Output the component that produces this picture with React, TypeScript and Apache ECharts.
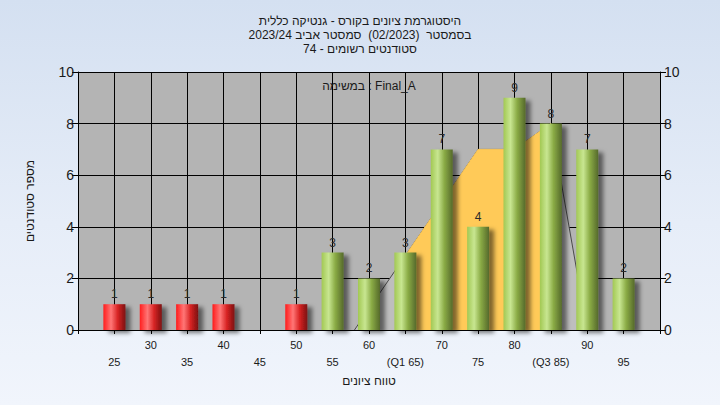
import React, { useEffect, useRef } from "react";
import * as echarts from "echarts";

const titleLines = [
  "היסטוגרמת ציונים בקורס - גנטיקה כללית",
  "בסמסטר  (02/2023)  סמסטר אביב 2023/24",
  "סטודנטים רשומים - 74",
];
const taskLabel = "במשימה : Final_A";
const xAxisName = "טווח ציונים";
const yAxisName = "מספר סטודנטים";

const scores = [25, 30, 35, 40, 50, 55, 60, 65, 70, 75, 80, 85, 90, 95];
const counts = [1, 1, 1, 1, 1, 3, 2, 3, 7, 4, 9, 8, 7, 2];
const passScore = 55;

const tickValues = [25, 30, 35, 40, 45, 50, 55, 60, 65, 70, 75, 80, 85, 90, 95];
const tickTexts = ["25", "30", "35", "40", "45", "50", "55", "60", "(Q1 65)", "70", "75", "80", "(Q3 85)", "90", "95"];

const curveX = [58, 75, 80, 85, 90];
const curveY = [0, 7, 7, 8, 0];
const iqrX = [65, 75, 80, 85];
const iqrY = [2.88, 7, 7, 8];

const FONT = "Arial, 'Liberation Sans', 'DejaVu Sans', sans-serif";

export default function App() {
  const ref = useRef<HTMLDivElement>(null);
  useEffect(() => {
    if (!ref.current) return;
    const chart = echarts.init(ref.current, undefined, { renderer: "svg" });
    const red = new echarts.graphic.LinearGradient(0, 0, 1, 0, [
      { offset: 0, color: "#ff1c1c" },
      { offset: 0.35, color: "#ff7676" },
      { offset: 0.65, color: "#d82424" },
      { offset: 1, color: "#7c1010" },
    ]);
    const green = new echarts.graphic.LinearGradient(0, 0, 1, 0, [
      { offset: 0, color: "#a2c853" },
      { offset: 0.32, color: "#c8e691" },
      { offset: 0.62, color: "#8aab45" },
      { offset: 1, color: "#55692b" },
    ]);
    const barData = scores.map((s, i) => ({
      value: [s, counts[i]],
      itemStyle: { color: s < passScore ? red : green },
    }));
    const option: any = {
      animation: false,
      textStyle: { fontFamily: FONT },
      title: {
        text: titleLines.join("\n"),
        left: "center",
        top: 9,
        textStyle: { fontSize: 12, fontWeight: "normal", color: "#1a1a1a", lineHeight: 14, fontFamily: FONT },
      },
      graphic: [
        {
          type: "text",
          x: 369,
          y: 86,
          style: {
            text: taskLabel,
            fontSize: 12,
            fill: "#1a1a1a",
            fontFamily: FONT,
            align: "center",
            verticalAlign: "middle",
          },
          z: 100,
        },
      ],
      grid: {
        left: 78,
        right: 60,
        top: 72,
        bottom: 75,
        show: true,
        backgroundColor: "#b4b4b4",
        borderWidth: 0,
      },
      xAxis: {
        type: "value",
        min: 20,
        max: 100,
        interval: 5,
        name: xAxisName,
        nameLocation: "middle",
        nameGap: 45,
        nameTextStyle: { fontSize: 12, color: "#1a1a1a", fontFamily: FONT },
        axisLine: { show: true, lineStyle: { color: "#000", width: 1 } },
        axisTick: { show: true, length: 4, lineStyle: { color: "#000" } },
        splitLine: { show: true, lineStyle: { color: "#000", width: 1 } },
        axisLabel: {
          fontSize: 11,
          color: "#1a1a1a",
          lineHeight: 17,
          margin: 6,
          showMinLabel: true,
          showMaxLabel: true,
          formatter: (v: number) => {
            const i = tickValues.indexOf(v);
            if (i < 0) return "";
            return i % 2 === 0 ? "\n" + tickTexts[i] : tickTexts[i];
          },
        },
      },
      yAxis: [
        {
          type: "value",
          min: 0,
          max: 10,
          interval: 2,
          name: yAxisName,
          nameLocation: "middle",
          nameGap: 42,
          nameTextStyle: { fontSize: 12, color: "#1a1a1a", fontFamily: FONT },
          axisLine: { show: true, lineStyle: { color: "#000", width: 1 } },
          axisTick: { show: true, length: 6, lineStyle: { color: "#000" } },
          splitLine: { show: true, lineStyle: { color: "#000", width: 1 } },
          axisLabel: { fontSize: 14, color: "#1a1a1a", margin: 4 },
        },
        {
          type: "value",
          position: "right",
          min: 0,
          max: 10,
          interval: 2,
          axisLine: { show: true, lineStyle: { color: "#000", width: 1 } },
          axisTick: { show: true, length: 6, lineStyle: { color: "#000" } },
          splitLine: { show: false },
          axisLabel: { fontSize: 14, color: "#1a1a1a", margin: 4 },
        },
      ],
      series: [
        {
          type: "line",
          data: curveX.map((x, i) => [x, curveY[i]]),
          symbol: "none",
          lineStyle: { color: "#4a4a4a", width: 1 },
          areaStyle: { color: "#bebebe", opacity: 1 },
          z: 1,
          silent: true,
        },
        {
          type: "line",
          data: iqrX.map((x, i) => [x, iqrY[i]]),
          symbol: "none",
          lineStyle: { color: "#ffca58", width: 1 },
          areaStyle: { color: "#ffca58", opacity: 1 },
          z: 2,
          silent: true,
        },
        {
          type: "bar",
          data: barData,
          barWidth: 22,
          z: 5,
          itemStyle: {
            shadowColor: "rgba(0,0,0,0.5)",
            shadowBlur: 4,
            shadowOffsetX: 5,
            shadowOffsetY: 3,
          },
          label: {
            show: true,
            position: "top",
            distance: 4,
            fontSize: 12,
            color: "#2a2a2a",
            formatter: (p: any) => String(p.value[1]),
          },
        },
      ],
    };
    chart.setOption(option);
    return () => chart.dispose();
  }, []);
  return (
    <div
      style={{
        position: "fixed",
        left: 0,
        top: 0,
        width: 720,
        height: 405,
        background: "linear-gradient(180deg, #d4e0f1 0%, #e6edf8 55%, #f1f5fc 100%)",
      }}
    >
      <div ref={ref} style={{ width: 720, height: 405, background: "transparent" }} />
    </div>
  );
}
